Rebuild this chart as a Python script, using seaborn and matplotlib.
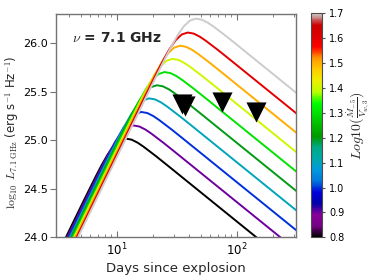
import numpy as np
import pandas as pd
import matplotlib
matplotlib.use("Agg")
import matplotlib.pyplot as plt
import seaborn as sns
from matplotlib.colors import Normalize
from matplotlib.cm import ScalarMappable
from matplotlib.ticker import FormatStrFormatter, LogLocator, NullFormatter

# ---- data (log10 days, log10 luminosity) ----
mdot_levels = [0.8, 0.9, 1.0, 1.1, 1.2, 1.3, 1.4, 1.5, 1.6, 1.7]

logt_08 = [0.538, 0.624, 0.724, 0.824, 0.874, 0.924, 0.974, 1.024, 1.074, 1.124, 1.174, 1.224, 1.324, 1.424, 2.55]
lum_08 = [23.9, 24.120, 24.374, 24.623, 24.742, 24.851, 24.939, 24.997, 25.017, 25.006, 24.975, 24.933, 24.839, 24.740, 23.614]

logt_09 = [0.549, 0.689, 0.789, 0.889, 0.939, 0.989, 1.039, 1.089, 1.139, 1.189, 1.239, 1.289, 1.389, 1.489, 2.55]
lum_09 = [23.9, 24.255, 24.509, 24.758, 24.877, 24.986, 25.074, 25.132, 25.152, 25.141, 25.110, 25.068, 24.974, 24.875, 23.814]

logt_10 = [0.560, 0.755, 0.855, 0.955, 1.005, 1.055, 1.105, 1.155, 1.205, 1.255, 1.305, 1.355, 1.455, 1.555, 2.55]
lum_10 = [23.9, 24.394, 24.648, 24.897, 25.016, 25.125, 25.213, 25.271, 25.291, 25.280, 25.249, 25.207, 25.113, 25.014, 24.019]

logt_11 = [0.571, 0.820, 0.920, 1.020, 1.070, 1.120, 1.170, 1.220, 1.270, 1.320, 1.370, 1.420, 1.520, 1.620, 2.55]
lum_11 = [23.9, 24.534, 24.788, 25.037, 25.156, 25.265, 25.353, 25.411, 25.431, 25.420, 25.389, 25.347, 25.253, 25.154, 24.224]

logt_12 = [0.582, 0.885, 0.985, 1.085, 1.135, 1.185, 1.235, 1.285, 1.335, 1.385, 1.435, 1.485, 1.585, 1.685, 2.55]
lum_12 = [23.9, 24.669, 24.923, 25.172, 25.291, 25.400, 25.488, 25.546, 25.566, 25.555, 25.524, 25.482, 25.388, 25.289, 24.424]

logt_13 = [0.594, 0.949, 1.049, 1.149, 1.199, 1.249, 1.299, 1.349, 1.399, 1.449, 1.499, 1.549, 1.649, 1.749, 2.55]
lum_13 = [23.9, 24.805, 25.059, 25.308, 25.427, 25.536, 25.624, 25.682, 25.702, 25.691, 25.660, 25.618, 25.524, 25.425, 24.624]

logt_14 = [0.605, 1.014, 1.114, 1.214, 1.264, 1.314, 1.364, 1.414, 1.464, 1.514, 1.564, 1.614, 1.714, 1.814, 2.55]
lum_14 = [23.9, 24.941, 25.195, 25.444, 25.563, 25.672, 25.760, 25.818, 25.838, 25.827, 25.796, 25.754, 25.660, 25.561, 24.824]

logt_15 = [0.616, 1.078, 1.178, 1.278, 1.328, 1.378, 1.428, 1.478, 1.528, 1.578, 1.628, 1.678, 1.778, 1.878, 2.55]
lum_15 = [23.9, 25.076, 25.330, 25.579, 25.698, 25.807, 25.895, 25.953, 25.973, 25.962, 25.931, 25.889, 25.795, 25.696, 25.024]

logt_16 = [0.627, 1.142, 1.242, 1.342, 1.392, 1.442, 1.492, 1.542, 1.592, 1.642, 1.692, 1.742, 1.842, 1.942, 2.55]
lum_16 = [23.9, 25.212, 25.466, 25.715, 25.834, 25.943, 26.031, 26.089, 26.109, 26.098, 26.067, 26.025, 25.931, 25.832, 25.224]

logt_17 = [0.638, 1.210, 1.310, 1.410, 1.460, 1.510, 1.560, 1.610, 1.660, 1.710, 1.760, 1.810, 1.910, 2.010, 2.55]
lum_17 = [23.9, 25.355, 25.609, 25.858, 25.977, 26.086, 26.174, 26.232, 26.252, 26.241, 26.210, 26.168, 26.074, 25.975, 25.434]

limit_days = [34.7, 37.1, 75.0, 145.5]
limit_lum = [25.369, 25.354, 25.393, 25.29]

curves = [(logt_08, lum_08), (logt_09, lum_09), (logt_10, lum_10), (logt_11, lum_11),
          (logt_12, lum_12), (logt_13, lum_13), (logt_14, lum_14), (logt_15, lum_15),
          (logt_16, lum_16), (logt_17, lum_17)]

rows = []
for lev, (lt, lm) in zip(mdot_levels, curves):
    for a, b in zip(lt, lm):
        rows.append({"days": 10 ** a, "lum": b, "mdot": f"{lev:.1f}"})
df = pd.DataFrame(rows)

# ---- style ----
sns.set_style("ticks")
plt.rcParams["font.family"] = ["DejaVu Sans"]
plt.rcParams["mathtext.fontset"] = "cm"

cmap = plt.get_cmap("nipy_spectral")
norm = Normalize(vmin=0.8, vmax=1.7)
hue_order = [f"{v:.1f}" for v in mdot_levels]
palette = {f"{v:.1f}": cmap(norm(v)) for v in mdot_levels}

fig = plt.figure(figsize=(3.74, 2.8), dpi=100)
ax = fig.add_axes([0.1497, 0.1525, 0.6417, 0.7975])
cax = fig.add_axes([0.8307, 0.1525, 0.0294, 0.8])

sns.lineplot(data=df, x="days", y="lum", hue="mdot", hue_order=hue_order,
             palette=palette, estimator=None, sort=False, legend=False,
             linewidth=1.4, ax=ax)
sns.scatterplot(x=limit_days, y=limit_lum, marker="v", s=210, color="black",
                edgecolor="black", linewidth=0, ax=ax, zorder=5, legend=False)

ax.set_xscale("log")
ax.set_xlim(3.12, 312)
ax.set_ylim(24.0, 26.3)
ax.set_yticks([24.0, 24.5, 25.0, 25.5, 26.0])
ax.yaxis.set_major_formatter(FormatStrFormatter("%.1f"))
ax.xaxis.set_major_locator(LogLocator(base=10))
ax.xaxis.set_minor_locator(LogLocator(base=10, subs=np.arange(2, 10)))
ax.xaxis.set_minor_formatter(NullFormatter())

for sp in ax.spines.values():
    sp.set_color("0.45")
    sp.set_linewidth(1.0)
ax.tick_params(axis="x", which="both", direction="in", top=True, colors="0.45",
               labelcolor="black", labelsize=8.5)
ax.tick_params(axis="x", which="major", length=4)
ax.tick_params(axis="x", which="minor", length=2)
ax.tick_params(axis="y", which="major", direction="out", length=4, colors="0.45",
               labelcolor="black", labelsize=8, pad=2)

ax.set_xlabel("Days since explosion", fontsize=9.5, labelpad=2)
ax.set_ylabel(r"$\log_{10}\ L_{7.1\ \rm GHz}$ (erg s$^{-1}$ Hz$^{-1}$)", fontsize=8.5)
ax.yaxis.set_label_coords(-0.145, 0.47)

ax.text(0.065, 0.891, r"$\nu$ = 7.1 GHz", transform=ax.transAxes, fontsize=10,
        fontweight="bold", va="center", ha="left")

sm = ScalarMappable(norm=norm, cmap=cmap)
cb = fig.colorbar(sm, cax=cax, ticks=mdot_levels)
cb.ax.yaxis.set_major_formatter(FormatStrFormatter("%.1f"))
cb.ax.tick_params(labelsize=7, length=2, colors="0.3", labelcolor="black")
cb.outline.set_edgecolor("0.3")
cb.set_label(r"$Log10(\frac{\dot{M}_{-5}}{V_{w,3}})$", fontsize=10)
cb.ax.yaxis.set_label_coords(3.1, 0.5)

fig.savefig("out.png", dpi=100)
